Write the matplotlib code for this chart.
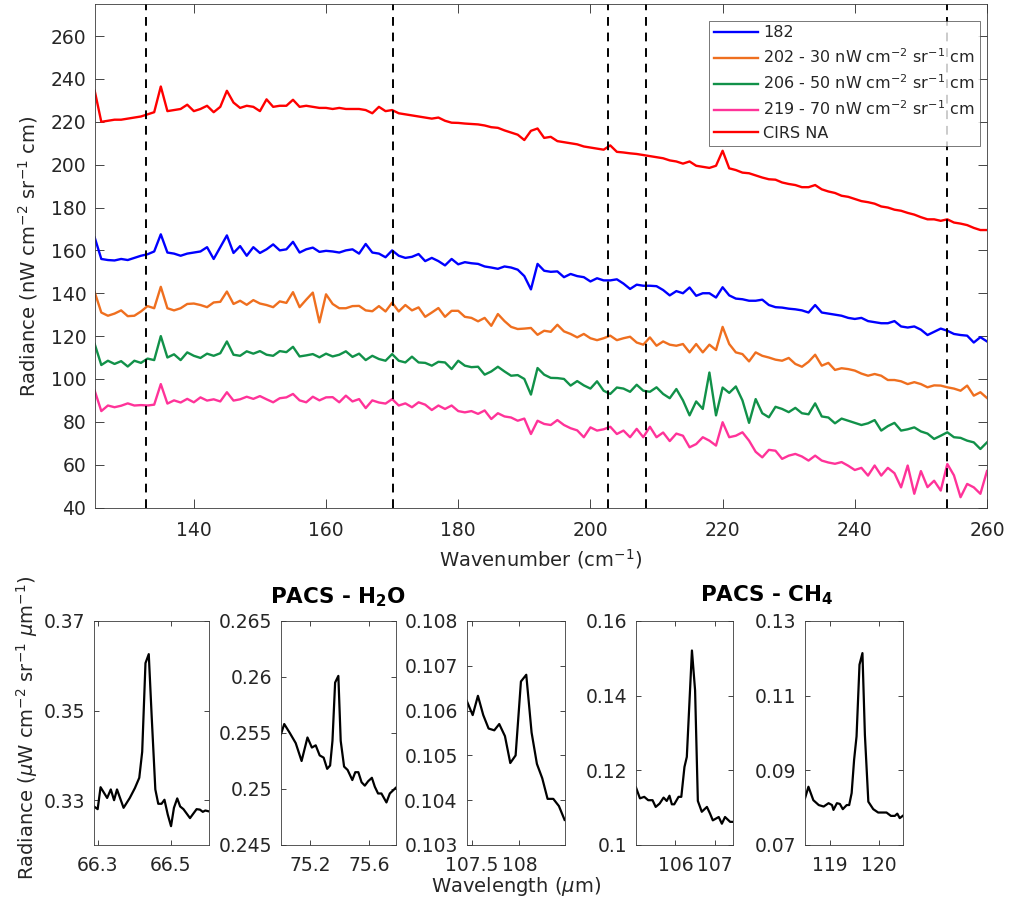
import numpy as np
import matplotlib
matplotlib.use("Agg")
import matplotlib.pyplot as plt

plt.rcParams['font.family'] = ['DejaVu Sans']
plt.rcParams['mathtext.fontset'] = 'dejavusans'

# ---------------- top panel data ----------------
wavenumber = np.arange(125, 261)

red_cirs = [234.5, 220, 220.5, 221, 221, 221.5, 222, 222.5, 223.5, 224.5,
            236.5, 225, 225.5, 226, 228, 225, 226, 227.5, 224.5, 227,
            234.5, 229, 226.5, 227.5, 227, 225, 230.5, 227, 227.5, 227.5,
            230.3, 227, 227.5, 227, 226.5, 226.5, 226, 226.5, 226, 226,
            226, 225.5, 224, 227, 225, 225.5, 224, 223.5, 223, 222.5,
            222, 221.5, 222, 220.5, 219.6, 219.5, 219.2, 219, 218.8, 218.3,
            217.5, 217.2, 216, 215, 214, 211.5, 215.8, 216.9, 212.5, 213,
            211, 210.5, 210, 209.5, 208.5, 208, 207.5, 207, 209, 206,
            205.7, 205.3, 205, 204.5, 204, 203.5, 203, 202, 201.5, 200.5,
            201.5, 199.5, 199, 198.5, 199.5, 206.5, 198.3, 197.5, 196.3, 196,
            195, 194, 193.2, 193, 191.7, 191, 190.5, 189.5, 189.5, 190.5,
            188.5, 187.5, 186.8, 185.5, 185, 184, 183, 182.5, 181.8, 180.5,
            180, 179, 178.5, 177.5, 176.7, 175.5, 174.5, 174.5, 173.8, 174.5,
            173, 172.5, 171.8, 170.5, 169.5, 169.5]

blue_182 = [166, 156, 155.5, 155.3, 156, 155.5, 156.5, 157.5, 158.2, 159.5,
            167.5, 159, 158.5, 157.5, 158.5, 159, 159.5, 161.5, 156, 161.5,
            167, 158.8, 162, 157.5, 161.5, 158.8, 160.5, 162.8, 160, 160.5,
            164, 159, 160.5, 161.3, 159.3, 159.8, 159.5, 159, 160, 160.5,
            158.5, 163, 159, 158.5, 156.8, 160, 157.5, 156.5, 157, 158.3,
            155, 156.5, 155, 153, 156, 153.5, 154.5, 154, 153.7, 152.5,
            152, 151.4, 152.5, 152, 151, 148, 141.8, 153.7, 150.5, 150,
            150.2, 147.5, 149, 148, 147.5, 145.5, 147, 146, 146, 146.5,
            144.5, 142, 144, 143.5, 143.5, 143.3, 141.5, 139, 141, 140,
            142.7, 138.8, 140, 140, 138, 142.8, 139, 137.5, 137.2, 136.5,
            136.5, 137, 134.5, 133.5, 133.3, 132.8, 132.5, 132, 131, 134.5,
            131, 130.5, 130, 129.5, 128.5, 128, 128.5, 127, 126.5, 126,
            126, 127, 124.5, 124, 124.5, 123, 120.5, 122, 123.5, 122.5,
            121, 120.5, 120.2, 117, 119.5, 117.5]

orange_202 = [140.5, 131, 129.5, 130.5, 132, 129.3, 129.5, 131.5, 134, 133,
              143, 133, 132, 133, 135, 135.2, 134.5, 133.5, 135.7, 136,
              140.8, 135, 136.5, 134.6, 136.8, 135.2, 134.5, 133.5, 136.2, 135.5,
              140.5, 133.5, 137, 140.3, 126.4, 139.5, 135, 133, 133, 134,
              134.1, 132, 131.6, 134, 131.5, 135.6, 131.5, 134.5, 132, 133.4,
              129, 131, 133.1, 129, 131.8, 131.8, 129, 128.5, 126.9, 128.5,
              124.8, 130.3, 127, 124.3, 123.3, 123.5, 123.8, 120.6, 122.5, 122,
              125.3, 122.2, 121, 119.4, 121, 119, 118.1, 119, 120.2, 118.1,
              119, 119.7, 117, 116, 119.4, 115.5, 117.5, 116, 115.5, 116.3,
              112.4, 116.3, 112.4, 116, 113.5, 124.3, 116.3, 112.4, 111.6, 108.2,
              112.4, 110.8, 110, 109, 108.5, 109.8, 107, 105.7, 108, 111.3,
              106.2, 107.5, 104.2, 105, 104.6, 103.9, 102.5, 101.5, 102.3, 101.5,
              99.5, 99.5, 98.9, 97.6, 98.5, 97.6, 96.1, 97, 96.9, 96.1,
              95.5, 94.5, 96.9, 92.2, 93.8, 91.1]

green_206 = [116.3, 106.5, 108.5, 107, 108.3, 105.8, 108.5, 107.5, 109.5, 108.8,
             120, 110, 111.5, 108.8, 112.4, 110.8, 109.8, 111.8, 110.8, 112,
             117.5, 111.3, 110.8, 112.9, 111.8, 113, 111.3, 110.8, 113, 112.5,
             115, 110.5, 111, 111.6, 110.1, 111.8, 110.5, 111.3, 112.9, 110.3,
             111.8, 108.8, 110.8, 109.3, 108.5, 111.6, 108.5, 107.7, 110.4, 107.7,
             107.5, 106.2, 108, 107.7, 104.6, 108.5, 106.2, 105.5, 105.7, 102,
             103.5, 105.7, 103.5, 101.5, 101.8, 100, 92.7, 105.1, 102, 100.5,
             100.4, 100, 96.9, 99, 97, 95.5, 98.9, 94.5, 93, 96,
             95.5, 94, 97.3, 94.5, 94, 96.1, 93, 91, 95.3, 90,
             83, 89.5, 86, 103, 83, 96, 93.5, 96.5, 90, 79.5,
             90.6, 84, 82.1, 87, 86, 84.5, 86.5, 84, 83.5, 88.6,
             82.5, 82, 79.3, 81.5, 80.5, 79.5, 78.5, 79.3, 80.8, 75.9,
             78, 79.5, 75.9, 76.5, 77.4, 75.5, 74.5, 72, 73.5, 75.1,
             72.8, 72.5, 71.2, 70.4, 67.3, 70.4]

pink_219 = [94.5, 85, 87.6, 86.8, 87.5, 88.6, 87.6, 87.8, 87.6, 88,
            97.6, 88.5, 90, 89, 90.7, 89.1, 91.4, 89.9, 90.5, 89.5,
            93.8, 89.9, 90.5, 91.7, 90.7, 92, 90.5, 89.1, 91, 91.4,
            93, 90, 89.1, 91.7, 90, 91.4, 91.5, 89.1, 92.2, 89.5,
            90.6, 86.4, 90, 89, 88.5, 90.6, 87.6, 88.6, 86.8, 89.1,
            88, 85.5, 87.6, 86, 87.6, 85, 84.4, 85, 83.7, 85.3,
            81.3, 84, 82.5, 82, 80.5, 81.5, 74.3, 80.5, 79, 78.5,
            80.8, 78.5, 77, 76, 72.8, 77.4, 75.9, 76.5, 77.7, 74.3,
            75.9, 72.8, 76.7, 72.8, 77.7, 72.8, 75, 71, 74.5, 73.5,
            68.1, 69.6, 72.8, 71.2, 68.9, 79.8, 72.8, 73.5, 75.1, 71.2,
            66, 63.4, 66.9, 66.5, 62.7, 64.2, 65, 63.8, 61.9, 64.2,
            61.9, 61, 60.4, 61.2, 59.5, 57.5, 58.5, 54.9, 59.6, 54.9,
            58.5, 56, 49.4, 59.6, 46.4, 57, 49.5, 52.5, 47.9, 60.3,
            55, 44.8, 51, 49.4, 46.4, 57]

series_labels = ['182',
                 '202 - 30 nW cm$^{-2}$ sr$^{-1}$ cm',
                 '206 - 50 nW cm$^{-2}$ sr$^{-1}$ cm',
                 '219 - 70 nW cm$^{-2}$ sr$^{-1}$ cm',
                 'CIRS NA']
series_colors = ['#0000FF', '#EF6F1F', '#119149', '#FF3399', '#FF0000']

dashed_positions = [132.7, 170.2, 202.7, 208.4, 253.9]

# ---------------- bottom panels data ----------------
h2o_1_x = [66.29, 66.30, 66.308, 66.326, 66.336, 66.345, 66.353, 66.371, 66.388, 66.402,
           66.414, 66.422, 66.431, 66.44, 66.448, 66.458, 66.466, 66.475, 66.483, 66.492,
           66.501, 66.509, 66.518, 66.526, 66.535, 66.553, 66.571, 66.58, 66.588, 66.595, 66.605]
h2o_1_y = [0.3286, 0.3280, 0.3329, 0.3305, 0.3324, 0.3300, 0.3324, 0.3283, 0.3305, 0.3327,
           0.3350, 0.3408, 0.3606, 0.3626, 0.3487, 0.3324, 0.3292, 0.3292, 0.3301, 0.3268,
           0.3242, 0.3283, 0.3304, 0.3286, 0.3280, 0.3260, 0.3280, 0.3279, 0.3274, 0.3277, 0.3275]

h2o_2_x = [75.0, 75.022, 75.06, 75.10, 75.14, 75.18, 75.21, 75.236, 75.263, 75.29,
           75.314, 75.334, 75.35, 75.368, 75.39, 75.406, 75.429, 75.453, 75.485, 75.505,
           75.526, 75.548, 75.57, 75.593, 75.618, 75.638, 75.66, 75.683, 75.717, 75.74, 75.78]
h2o_2_y = [0.2549, 0.2558, 0.2550, 0.2541, 0.2525, 0.2546, 0.2537, 0.2539, 0.2530, 0.2528,
           0.2518, 0.2521, 0.2543, 0.2595, 0.2601, 0.2543, 0.2520, 0.2517, 0.2508, 0.2515,
           0.2515, 0.2506, 0.2503, 0.2507, 0.2510, 0.2502, 0.2496, 0.2496, 0.2488, 0.2496, 0.2501]

h2o_3_x = [107.447, 107.51, 107.565, 107.621, 107.677, 107.737, 107.789, 107.849, 107.905, 107.961,
           108.017, 108.073, 108.129, 108.185, 108.241, 108.297, 108.357, 108.416, 108.476]
h2o_3_y = [0.10622, 0.10590, 0.10633, 0.10590, 0.10560, 0.10556, 0.10570, 0.10543, 0.10483, 0.10500,
           0.10665, 0.10680, 0.10551, 0.10481, 0.10449, 0.10403, 0.10403, 0.10387, 0.10356]

ch4_1_x = [105.0, 105.1, 105.21, 105.31, 105.42, 105.5, 105.6, 105.7, 105.78, 105.85,
           105.91, 105.97, 106.08, 106.15, 106.23, 106.29, 106.42, 106.5, 106.57, 106.67,
           106.8, 106.88, 106.95, 107.1, 107.18, 107.26, 107.39, 107.47]
ch4_1_y = [0.1154, 0.1125, 0.1129, 0.1120, 0.1120, 0.1102, 0.1111, 0.1127, 0.1118, 0.1132,
           0.1109, 0.1109, 0.1129, 0.1129, 0.1209, 0.1236, 0.1521, 0.1414, 0.1118, 0.1089,
           0.1102, 0.1084, 0.1066, 0.1075, 0.1057, 0.1075, 0.1062, 0.1062]

ch4_2_x = [118.49, 118.56, 118.66, 118.77, 118.87, 118.97, 119.04, 119.07, 119.14, 119.2,
           119.26, 119.34, 119.39, 119.44, 119.49, 119.54, 119.6, 119.66, 119.71, 119.78,
           119.88, 119.98, 120.15, 120.24, 120.32, 120.37, 120.42, 120.48]
ch4_2_y = [0.0825, 0.0856, 0.0820, 0.0807, 0.0803, 0.0812, 0.0807, 0.0794, 0.0812, 0.0810,
           0.0796, 0.0807, 0.0807, 0.0839, 0.0928, 0.0991, 0.1183, 0.1214, 0.0995, 0.0816,
           0.0796, 0.0787, 0.0787, 0.0778, 0.0778, 0.0784, 0.0772, 0.0778]

# ---------------- drawing ----------------
W, H = 1010, 907
fig = plt.figure(figsize=(W / 100, H / 100), dpi=100)

TXT = '#262626'
SPINE = '#3a3a3a'


def style_axes(ax, fs, tl, xpad, ypad):
    for s in ax.spines.values():
        s.set_color(SPINE)
        s.set_linewidth(0.6)
    ax.tick_params(direction='in', top=True, right=True, labelsize=fs,
                   colors=TXT, length=tl, width=0.6)
    ax.tick_params(axis='x', pad=xpad)
    ax.tick_params(axis='y', pad=ypad)


def px_axes(left, top, right, bottom):
    return fig.add_axes([left / W, 1 - bottom / H, (right - left) / W, (bottom - top) / H])


ax = px_axes(94.7, 4, 987, 507.5)
top_series = [blue_182, orange_202, green_206, pink_219, red_cirs]
for vals, lab, col in zip(top_series, series_labels, series_colors):
    ax.plot(wavenumber, vals, color=col, lw=1.7, label=lab)
for xv in dashed_positions:
    ax.axvline(xv, color='black', lw=1.4, ls=(0, (4.5, 3.5)))
ax.set_xlim(125, 260)
ax.set_ylim(40, 275)
ax.set_xticks([140, 160, 180, 200, 220, 240, 260])
ax.set_yticks(np.arange(40, 261, 20))
style_axes(ax, 13.5, 6.5, 10, 6)
ax.set_xlabel('Wavenumber (cm$^{-1}$)', fontsize=14, color=TXT, labelpad=5)
ax.set_ylabel('Radiance (nW cm$^{-2}$ sr$^{-1}$ cm)', fontsize=14, color=TXT, labelpad=8)
leg = ax.legend(loc='upper right', bbox_to_anchor=(0.9955, 0.9735), fontsize=11.5,
                frameon=True, fancybox=False, borderpad=0.3, labelspacing=0.46,
                handlelength=2.8, handletextpad=0.3, borderaxespad=0.2)
leg.get_frame().set_edgecolor('#3a3a3a')
leg.get_frame().set_linewidth(0.6)
for t in leg.get_texts():
    t.set_color(TXT)

# bottom panels
panels = [
    ((94, 209), h2o_1_x, h2o_1_y, (66.29, 66.605), (0.32, 0.37), [66.3, 66.5], [0.33, 0.35, 0.37],
     ['66.3', '66.5'], ['0.33', '0.35', '0.37']),
    ((281, 395.7), h2o_2_x, h2o_2_y, (75.0, 75.78), (0.245, 0.265), [75.2, 75.6],
     [0.245, 0.25, 0.255, 0.26, 0.265], ['75.2', '75.6'], ['0.245', '0.25', '0.255', '0.26', '0.265']),
    ((466.7, 564.7), h2o_3_x, h2o_3_y, (107.447, 108.477), (0.103, 0.108), [107.5, 108.0],
     [0.103, 0.104, 0.105, 0.106, 0.107, 0.108], ['107.5', '108'],
     ['0.103', '0.104', '0.105', '0.106', '0.107', '0.108']),
    ((636, 733.3), ch4_1_x, ch4_1_y, (105.0, 107.47), (0.10, 0.16), [106, 107],
     [0.10, 0.12, 0.14, 0.16], ['106', '107'], ['0.1', '0.12', '0.14', '0.16']),
    ((805, 902.7), ch4_2_x, ch4_2_y, (118.49, 120.48), (0.07, 0.13), [119, 120],
     [0.07, 0.09, 0.11, 0.13], ['119', '120'], ['0.07', '0.09', '0.11', '0.13']),
]
for (l, r), xs, ys, xl, yl, xt, yt, xtl, ytl in panels:
    a = px_axes(l, 621, r, 845)
    a.plot(xs, ys, color='black', lw=1.6)
    a.set_xlim(*xl)
    a.set_ylim(*yl)
    a.set_xticks(xt)
    a.set_xticklabels(xtl)
    a.set_yticks(yt)
    a.set_yticklabels(ytl)
    style_axes(a, 13.5, 3.5, 8, 6.5)

fig.text(338 / W, 1 - 597 / H, 'PACS - H$_\\mathbf{2}$O', fontsize=15.5, fontweight='bold',
         ha='center', va='center', color='black')
fig.text(767 / W, 1 - 595 / H, 'PACS - CH$_\\mathbf{4}$', fontsize=15.5, fontweight='bold',
         ha='center', va='center', color='black')
fig.text(516 / W, 1 - 886 / H, 'Wavelength ($\\mu$m)', fontsize=14, ha='center', va='center',
         color=TXT)
fig.text(27 / W, 1 - 728 / H, 'Radiance ($\\mu$W cm$^{-2}$ sr$^{-1}$ $\\mu$m$^{-1}$)', fontsize=14,
         rotation=90, ha='center', va='center', color=TXT)

fig.savefig('out.png', dpi=100)
